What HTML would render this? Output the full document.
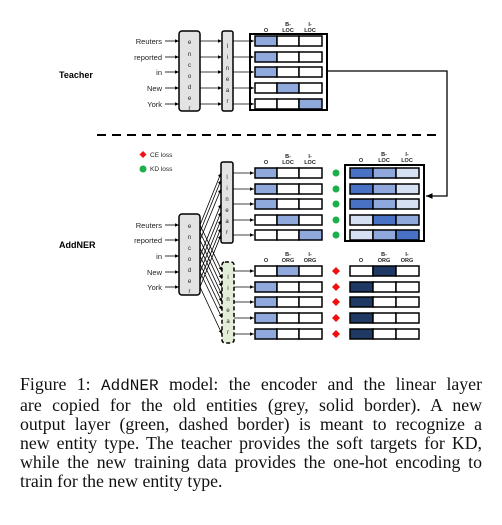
<!DOCTYPE html>
<html><head><style>
body{margin:0;background:#fff;width:502px;height:525px;overflow:hidden}
.cap{position:absolute;left:20px;top:375px;width:462px;font-family:"Liberation Serif",serif;font-size:17.8px;line-height:19px;color:#111}
.cap div{white-space:nowrap;text-align:justify;text-align-last:justify}
.cap div.l{text-align-last:left}
.m{font-family:"Liberation Mono",monospace;font-size:16px}
</style></head><body>
<svg width="502" height="370" style="position:absolute;left:0;top:0" font-family="Liberation Sans, sans-serif">
<defs><marker id="a" markerWidth="6" markerHeight="6" refX="5" refY="3" orient="auto"><path d="M0,0.8 L5,3 L0,5.2z" fill="#000"/></marker></defs>
<g font-size="7.5" text-anchor="end" fill="#222">
<text x="162" y="44">Reuters</text><text x="162" y="60">reported</text><text x="162" y="75">in</text><text x="162" y="91">New</text><text x="162" y="107">York</text>
<text x="162" y="228">Reuters</text><text x="162" y="243">reported</text><text x="162" y="259">in</text><text x="162" y="275">New</text><text x="162" y="290">York</text>
</g>
<text x="59" y="78" font-size="9" font-weight="bold">Teacher</text>
<text x="59" y="248" font-size="9" font-weight="bold">AddNER</text>
<g stroke="#000" stroke-width="0.8" marker-end="url(#a)">
<line x1="165" y1="41" x2="179" y2="41"/><line x1="165" y1="57" x2="179" y2="57"/><line x1="165" y1="72" x2="179" y2="72"/><line x1="165" y1="88" x2="179" y2="88"/><line x1="165" y1="104" x2="179" y2="104"/>
<line x1="200" y1="41" x2="222" y2="41"/><line x1="200" y1="57" x2="222" y2="57"/><line x1="200" y1="72" x2="222" y2="72"/><line x1="200" y1="88" x2="222" y2="88"/><line x1="200" y1="104" x2="222" y2="104"/>
<line x1="233" y1="41" x2="254" y2="41"/><line x1="233" y1="57" x2="254" y2="57"/><line x1="233" y1="72" x2="254" y2="72"/><line x1="233" y1="88" x2="254" y2="88"/><line x1="233" y1="104" x2="254" y2="104"/>
<line x1="165" y1="225" x2="179" y2="225"/><line x1="165" y1="240" x2="179" y2="240"/><line x1="165" y1="256" x2="179" y2="256"/><line x1="165" y1="272" x2="179" y2="272"/><line x1="165" y1="287" x2="179" y2="287"/>
<line x1="233" y1="173" x2="254" y2="173"/><line x1="233" y1="189" x2="254" y2="189"/><line x1="233" y1="204" x2="254" y2="204"/><line x1="233" y1="220" x2="254" y2="220"/><line x1="233" y1="235" x2="254" y2="235"/>
<line x1="234" y1="271" x2="254" y2="271"/><line x1="234" y1="287" x2="254" y2="287"/><line x1="234" y1="302" x2="254" y2="302"/><line x1="234" y1="318" x2="254" y2="318"/><line x1="234" y1="334" x2="254" y2="334"/>
<line x1="200" y1="225" x2="221" y2="173"/><line x1="200" y1="240" x2="221" y2="189"/><line x1="200" y1="256" x2="221" y2="204"/><line x1="200" y1="272" x2="221" y2="220"/><line x1="200" y1="287" x2="221" y2="235"/>
<line x1="200" y1="232" x2="221" y2="180"/><line x1="200" y1="264" x2="221" y2="212"/><line x1="200" y1="280" x2="221" y2="228"/>
<line x1="200" y1="225" x2="222" y2="271"/><line x1="200" y1="240" x2="222" y2="287"/><line x1="200" y1="256" x2="222" y2="302"/><line x1="200" y1="272" x2="222" y2="318"/><line x1="200" y1="287" x2="222" y2="334"/>
<line x1="200" y1="232" x2="222" y2="279"/><line x1="200" y1="248" x2="222" y2="295"/><line x1="200" y1="264" x2="222" y2="310"/>
</g>
<polyline points="327,71 447,71 447,196 426,196" fill="none" stroke="#000" stroke-width="1.3" marker-end="url(#a)"/>
<line x1="97" y1="135" x2="437" y2="135" stroke="#000" stroke-width="2" stroke-dasharray="9,6"/>
<g fill="#e3e3e3" stroke="#000" stroke-width="1.5">
<rect x="179" y="31" width="21" height="80" rx="3"/><rect x="222" y="31" width="11" height="80" rx="2"/>
<rect x="179" y="214" width="21" height="81" rx="3"/><rect x="221" y="162" width="12" height="81" rx="2"/>
<rect x="222" y="262" width="12" height="81" rx="3" fill="#e2eed8" stroke-dasharray="4,2.5"/>
</g>
<g font-size="6" text-anchor="middle" fill="#222">
<text x="189.5" y="44">e</text><text x="189.5" y="56">n</text><text x="189.5" y="67">c</text><text x="189.5" y="78">o</text><text x="189.5" y="89">d</text><text x="189.5" y="100">e</text><text x="189.5" y="110">r</text>
<text x="227.5" y="48">l</text><text x="227.5" y="59">i</text><text x="227.5" y="70">n</text><text x="227.5" y="81">e</text><text x="227.5" y="92">a</text><text x="227.5" y="103">r</text>
<text x="189.5" y="228">e</text><text x="189.5" y="239">n</text><text x="189.5" y="250">c</text><text x="189.5" y="261">o</text><text x="189.5" y="272">d</text><text x="189.5" y="283">e</text><text x="189.5" y="293">r</text>
<text x="227" y="179">l</text><text x="227" y="190">i</text><text x="227" y="201">n</text><text x="227" y="212">e</text><text x="227" y="223">a</text><text x="227" y="234">r</text>
<text x="228" y="279">l</text><text x="228" y="290">i</text><text x="228" y="301">n</text><text x="228" y="312">e</text><text x="228" y="323">a</text><text x="228" y="334">r</text>
</g>
<g font-size="5.5" text-anchor="middle" font-weight="bold" fill="#222">
<text x="266" y="32">O</text><text x="288" y="26">B-</text><text x="288" y="32">LOC</text><text x="310" y="26">I-</text><text x="310" y="32">LOC</text>
<text x="266" y="164">O</text><text x="288" y="158">B-</text><text x="288" y="164">LOC</text><text x="310" y="158">I-</text><text x="310" y="164">LOC</text>
<text x="361" y="162">O</text><text x="384" y="156">B-</text><text x="384" y="162">LOC</text><text x="407" y="156">I-</text><text x="407" y="162">LOC</text>
<text x="266" y="262">O</text><text x="288" y="256">B-</text><text x="288" y="262">ORG</text><text x="310" y="256">I-</text><text x="310" y="262">ORG</text>
<text x="361" y="262">O</text><text x="384" y="256">B-</text><text x="384" y="262">ORG</text><text x="407" y="256">I-</text><text x="407" y="262">ORG</text>
</g>
<rect x="250" y="34" width="77" height="76" fill="none" stroke="#000" stroke-width="2"/>
<rect x="345" y="165" width="79" height="76" fill="none" stroke="#000" stroke-width="2"/>
<g stroke="#000" stroke-width="1.5">
<rect x="255" y="36" width="22" height="10" fill="#8fa9dc"/><rect x="277" y="36" width="22" height="10" fill="#fff"/><rect x="299" y="36" width="23" height="10" fill="#fff"/>
<rect x="255" y="52" width="22" height="10" fill="#8fa9dc"/><rect x="277" y="52" width="22" height="10" fill="#fff"/><rect x="299" y="52" width="23" height="10" fill="#fff"/>
<rect x="255" y="67" width="22" height="10" fill="#8fa9dc"/><rect x="277" y="67" width="22" height="10" fill="#fff"/><rect x="299" y="67" width="23" height="10" fill="#fff"/>
<rect x="255" y="83" width="22" height="10" fill="#fff"/><rect x="277" y="83" width="22" height="10" fill="#8fa9dc"/><rect x="299" y="83" width="23" height="10" fill="#fff"/>
<rect x="255" y="99" width="22" height="10" fill="#fff"/><rect x="277" y="99" width="22" height="10" fill="#fff"/><rect x="299" y="99" width="23" height="10" fill="#8fa9dc"/>
<rect x="255" y="168" width="22" height="10" fill="#8fa9dc"/><rect x="277" y="168" width="22" height="10" fill="#fff"/><rect x="299" y="168" width="23" height="10" fill="#fff"/>
<rect x="255" y="184" width="22" height="10" fill="#8fa9dc"/><rect x="277" y="184" width="22" height="10" fill="#fff"/><rect x="299" y="184" width="23" height="10" fill="#fff"/>
<rect x="255" y="199" width="22" height="10" fill="#8fa9dc"/><rect x="277" y="199" width="22" height="10" fill="#fff"/><rect x="299" y="199" width="23" height="10" fill="#fff"/>
<rect x="255" y="215" width="22" height="10" fill="#fff"/><rect x="277" y="215" width="22" height="10" fill="#8fa9dc"/><rect x="299" y="215" width="23" height="10" fill="#fff"/>
<rect x="255" y="230" width="22" height="10" fill="#fff"/><rect x="277" y="230" width="22" height="10" fill="#fff"/><rect x="299" y="230" width="23" height="10" fill="#8fa9dc"/>
<rect x="350" y="168" width="23" height="10" fill="#4a72c4"/><rect x="373" y="168" width="23" height="10" fill="#8fa9dc"/><rect x="396" y="168" width="23" height="10" fill="#d6e0f3"/>
<rect x="350" y="184" width="23" height="10" fill="#4a72c4"/><rect x="373" y="184" width="23" height="10" fill="#8fa9dc"/><rect x="396" y="184" width="23" height="10" fill="#d6e0f3"/>
<rect x="350" y="199" width="23" height="10" fill="#4a72c4"/><rect x="373" y="199" width="23" height="10" fill="#8fa9dc"/><rect x="396" y="199" width="23" height="10" fill="#d6e0f3"/>
<rect x="350" y="215" width="23" height="10" fill="#d6e0f3"/><rect x="373" y="215" width="23" height="10" fill="#4a72c4"/><rect x="396" y="215" width="23" height="10" fill="#8fa9dc"/>
<rect x="350" y="230" width="23" height="10" fill="#d6e0f3"/><rect x="373" y="230" width="23" height="10" fill="#8fa9dc"/><rect x="396" y="230" width="23" height="10" fill="#4a72c4"/>
<rect x="255" y="266" width="22" height="10" fill="#fff"/><rect x="277" y="266" width="22" height="10" fill="#8fa9dc"/><rect x="299" y="266" width="23" height="10" fill="#fff"/>
<rect x="255" y="282" width="22" height="10" fill="#8fa9dc"/><rect x="277" y="282" width="22" height="10" fill="#fff"/><rect x="299" y="282" width="23" height="10" fill="#fff"/>
<rect x="255" y="297" width="22" height="10" fill="#8fa9dc"/><rect x="277" y="297" width="22" height="10" fill="#fff"/><rect x="299" y="297" width="23" height="10" fill="#fff"/>
<rect x="255" y="313" width="22" height="10" fill="#8fa9dc"/><rect x="277" y="313" width="22" height="10" fill="#fff"/><rect x="299" y="313" width="23" height="10" fill="#fff"/>
<rect x="255" y="329" width="22" height="10" fill="#8fa9dc"/><rect x="277" y="329" width="22" height="10" fill="#fff"/><rect x="299" y="329" width="23" height="10" fill="#fff"/>
<rect x="350" y="266" width="23" height="10" fill="#fff"/><rect x="373" y="266" width="23" height="10" fill="#1f3864"/><rect x="396" y="266" width="23" height="10" fill="#fff"/>
<rect x="350" y="282" width="23" height="10" fill="#1f3864"/><rect x="373" y="282" width="23" height="10" fill="#fff"/><rect x="396" y="282" width="23" height="10" fill="#fff"/>
<rect x="350" y="297" width="23" height="10" fill="#1f3864"/><rect x="373" y="297" width="23" height="10" fill="#fff"/><rect x="396" y="297" width="23" height="10" fill="#fff"/>
<rect x="350" y="313" width="23" height="10" fill="#1f3864"/><rect x="373" y="313" width="23" height="10" fill="#fff"/><rect x="396" y="313" width="23" height="10" fill="#fff"/>
<rect x="350" y="329" width="23" height="10" fill="#1f3864"/><rect x="373" y="329" width="23" height="10" fill="#fff"/><rect x="396" y="329" width="23" height="10" fill="#fff"/>
</g>
<g fill="#1ab04a">
<circle cx="336" cy="173" r="3.5"/><circle cx="336" cy="189" r="3.5"/><circle cx="336" cy="204" r="3.5"/><circle cx="336" cy="220" r="3.5"/><circle cx="336" cy="235" r="3.5"/>
<circle cx="143" cy="169" r="3.5"/>
</g>
<g fill="#f01010">
<path d="M336,267 l4,4 -4,4 -4,-4z"/><path d="M336,283 l4,4 -4,4 -4,-4z"/><path d="M336,298 l4,4 -4,4 -4,-4z"/><path d="M336,314 l4,4 -4,4 -4,-4z"/><path d="M336,330 l4,4 -4,4 -4,-4z"/>
<path d="M143,151 l3.5,3.5 -3.5,3.5 -3.5,-3.5z"/>
</g>
<text x="150" y="157" font-size="6.5" fill="#222">CE loss</text>
<text x="150" y="171" font-size="6.5" fill="#222">KD loss</text>
</svg>
<div class="cap">
<div>Figure 1: <span class="m">AddNER</span> model: the encoder and the linear layer</div>
<div>are copied for the old entities (grey, solid border). A new</div>
<div>output layer (green, dashed border) is meant to recognize a</div>
<div>new entity type. The teacher provides the soft targets for KD,</div>
<div>while the new training data provides the one-hot encoding to</div>
<div class="l">train for the new entity type.</div>
</div>
</body></html>
